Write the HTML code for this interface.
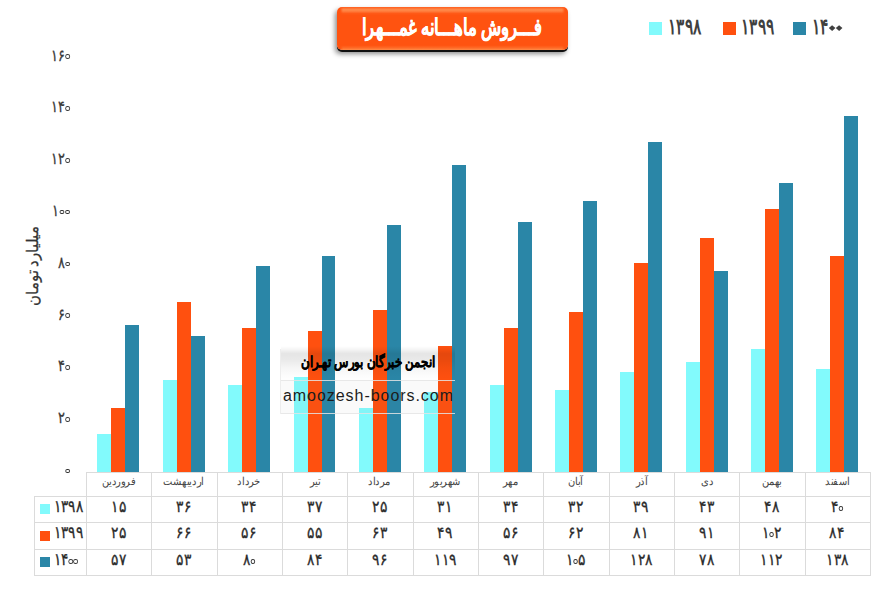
<!DOCTYPE html>
<html lang="fa">
<head>
<meta charset="utf-8">
<title>فروش ماهانه غمهرا</title>
<style>
html,body{margin:0;padding:0;background:#fff;}
body{width:881px;height:604px;position:relative;overflow:hidden;font-family:"Liberation Sans",sans-serif;color:#404040;}
.a{position:absolute;}
.bar{position:absolute;}
.c{background:#82fafc}.o{background:#ff500f}.t{background:#2a86a7}
.hl{position:absolute;height:1px;background:#dbdbdb;}
.vl{position:absolute;width:1px;background:#dbdbdb;}
.yl{position:absolute;left:19.2px;width:51px;height:16px;line-height:16px;text-align:right;font-size:16px;color:#383838;-webkit-text-stroke:.3px #383838;direction:ltr;white-space:nowrap;}
.yl>span{display:inline-block;transform:scaleX(.8);transform-origin:100% 50%;}
.mon{position:absolute;top:473px;height:23px;line-height:17px;text-align:center;font-size:11px;color:#454545;direction:rtl;white-space:nowrap;}
.mon>span{display:inline-block;transform:scaleX(.9);transform-origin:50% 50%;}
.val{position:absolute;height:26px;line-height:21px;text-align:center;font-size:16px;color:#2a2a2a;-webkit-text-stroke:.32px #2a2a2a;direction:ltr;white-space:nowrap;}
.val>span{display:inline-block;transform:scaleX(.86);transform-origin:50% 50%;}
.lg{position:absolute;left:54px;width:40px;height:26px;line-height:21px;font-size:17px;color:#2a2a2a;-webkit-text-stroke:.32px #2a2a2a;direction:ltr;white-space:nowrap;}
.lg>span{display:inline-block;transform:scaleX(.8);transform-origin:0 50%;}
.sq{position:absolute;left:40px;width:10px;height:10px;}
.tl{position:absolute;top:13.5px;height:26px;line-height:26px;font-size:22px;font-weight:bold;color:#404040;direction:ltr;white-space:nowrap;}
.tl>span{display:inline-block;transform:scaleX(.7);transform-origin:0 50%;}
.tsq{position:absolute;top:22px;width:13px;height:13px;}
.r{font-size:0;}
.r::after{content:"";display:inline-block;vertical-align:baseline;box-sizing:border-box;height:4.7px;border-radius:50%;border-style:solid;border-color:#2e2e2e;}
.yl .r::after{width:6px;border-width:1.3px 1.6px;margin:0 .2px 1.5px .2px;}
.val .r::after{width:5.7px;border-width:1.35px 1.55px;margin:0 .3px 1.2px -.3px;}
.lg .r::after{width:6px;border-width:1.35px 1.65px;margin:0 .7px 1.2px -.2px;}
.zb{font-size:0;}
.zb::after{content:"";display:inline-block;vertical-align:baseline;width:3.5px;height:3.5px;background:#404040;margin:0 3.8px 4.3px 2.9px;transform:scaleX(1.68) rotate(45deg);}
</style>
</head>
<body>

<div class="a" id="title" style="left:337px;top:7px;width:230.6px;height:43.2px;border-radius:5px;background:linear-gradient(to right,#ff5310 0,#ff5310 3px,rgba(255,83,16,0) 6px) left/8px 100% no-repeat,linear-gradient(to left,#ff5310 0,#ff5310 3px,rgba(255,83,16,0) 6px) right/8px 100% no-repeat,linear-gradient(#ff5c1c 0,#ff8848 6%,#ff8444 9%,#ff5a18 15%,#ff5310 19%,#ff5310 89%,#ff6a26 95%,#ff8c48 100%);box-shadow:0 1.9px 0 #101010,-2px 3.5px 5px rgba(0,0,0,.45);"></div>
<div class="a" id="titletext" style="left:337px;top:6px;width:231px;height:44px;line-height:42px;text-align:center;color:#fff;-webkit-text-stroke:.4px #fff;font-weight:bold;font-size:23px;direction:rtl;white-space:nowrap;"><span style="display:inline-block;transform:scaleX(.72);transform-origin:50% 50%;margin:0 -50px;position:relative;left:-0.5px">فـــروش ماهـــانه غمـــهرا</span></div>
<div class="tsq c" style="left:649.0px"></div>
<div class="tl" style="left:668px"><span>۱۳۹۸</span></div>
<div class="tsq o" style="left:722.5px"></div>
<div class="tl" style="left:741px"><span>۱۳۹۹</span></div>
<div class="tsq t" style="left:793.0px"></div>
<div class="tl" style="left:812px"><span>۱۴<span class="zb">۰</span><span class="zb">۰</span></span></div>
<div class="yl" style="top:47.5px"><span>۱۶<span class="r">۰</span></span></div>
<div class="yl" style="top:99.3px"><span>۱۴<span class="r">۰</span></span></div>
<div class="yl" style="top:151.1px"><span>۱۲<span class="r">۰</span></span></div>
<div class="yl" style="top:202.9px"><span>۱<span class="r">۰</span><span class="r">۰</span></span></div>
<div class="yl" style="top:254.7px"><span>۸<span class="r">۰</span></span></div>
<div class="yl" style="top:306.5px"><span>۶<span class="r">۰</span></span></div>
<div class="yl" style="top:358.3px"><span>۴<span class="r">۰</span></span></div>
<div class="yl" style="top:410.1px"><span>۲<span class="r">۰</span></span></div>
<div class="yl" style="top:461.9px"><span><span class="r">۰</span></span></div>
<div class="a" id="ytitle" style="left:-17.5px;top:254.5px;width:100px;height:22px;line-height:22px;text-align:center;font-size:16px;color:#333;-webkit-text-stroke:.25px #333;direction:rtl;white-space:nowrap;transform:rotate(-90deg);"><span style="display:inline-block;transform:scaleX(.93);transform-origin:50% 50%;">میلیارد تومان</span></div>
<div class="bar c" style="left:97px;top:434px;width:14px;height:38px"></div>
<div class="bar o" style="left:111px;top:408px;width:14px;height:64px"></div>
<div class="bar t" style="left:125px;top:325px;width:14px;height:147px"></div>
<div class="bar c" style="left:163px;top:380px;width:14px;height:92px"></div>
<div class="bar o" style="left:177px;top:302px;width:14px;height:170px"></div>
<div class="bar t" style="left:191px;top:336px;width:14px;height:136px"></div>
<div class="bar c" style="left:228px;top:385px;width:14px;height:87px"></div>
<div class="bar o" style="left:242px;top:328px;width:14px;height:144px"></div>
<div class="bar t" style="left:256px;top:266px;width:14px;height:206px"></div>
<div class="bar c" style="left:294px;top:377px;width:14px;height:95px"></div>
<div class="bar o" style="left:308px;top:331px;width:14px;height:141px"></div>
<div class="bar t" style="left:322px;top:256px;width:13px;height:216px"></div>
<div class="bar c" style="left:359px;top:408px;width:14px;height:64px"></div>
<div class="bar o" style="left:373px;top:310px;width:14px;height:162px"></div>
<div class="bar t" style="left:387px;top:225px;width:14px;height:247px"></div>
<div class="bar c" style="left:424px;top:392px;width:14px;height:80px"></div>
<div class="bar o" style="left:438px;top:346px;width:14px;height:126px"></div>
<div class="bar t" style="left:452px;top:165px;width:14px;height:307px"></div>
<div class="bar c" style="left:490px;top:385px;width:14px;height:87px"></div>
<div class="bar o" style="left:504px;top:328px;width:14px;height:144px"></div>
<div class="bar t" style="left:518px;top:222px;width:14px;height:250px"></div>
<div class="bar c" style="left:555px;top:390px;width:14px;height:82px"></div>
<div class="bar o" style="left:569px;top:312px;width:14px;height:160px"></div>
<div class="bar t" style="left:583px;top:201px;width:14px;height:271px"></div>
<div class="bar c" style="left:620px;top:372px;width:14px;height:100px"></div>
<div class="bar o" style="left:634px;top:263px;width:14px;height:209px"></div>
<div class="bar t" style="left:648px;top:142px;width:14px;height:330px"></div>
<div class="bar c" style="left:686px;top:362px;width:14px;height:110px"></div>
<div class="bar o" style="left:700px;top:238px;width:14px;height:234px"></div>
<div class="bar t" style="left:714px;top:271px;width:14px;height:201px"></div>
<div class="bar c" style="left:751px;top:349px;width:14px;height:123px"></div>
<div class="bar o" style="left:765px;top:209px;width:14px;height:263px"></div>
<div class="bar t" style="left:779px;top:183px;width:14px;height:289px"></div>
<div class="bar c" style="left:816px;top:369px;width:14px;height:103px"></div>
<div class="bar o" style="left:830px;top:256px;width:14px;height:216px"></div>
<div class="bar t" style="left:844px;top:116px;width:14px;height:356px"></div>
<div class="a" id="wm1" style="left:281px;top:346px;width:174px;height:35px;background:linear-gradient(rgba(0,0,0,0) 0,rgba(0,0,0,.035) 9%,rgba(0,0,0,.1) 22%,rgba(0,0,0,.085) 38%,rgba(0,0,0,.04) 62%,rgba(0,0,0,.01) 85%,rgba(0,0,0,0) 100%);"></div>
<div class="a" id="wm2" style="left:281px;top:380px;width:174px;height:34px;background:rgba(110,110,110,.035);border-top:1px solid rgba(228,228,228,.85);border-bottom:1px solid rgba(228,228,228,.85);box-sizing:border-box;"></div>
<div class="a" id="wm3" style="left:280px;top:349px;width:1px;height:65px;background:rgba(232,232,232,.8);"></div>
<div class="a" id="wmt" style="left:281px;top:348px;width:174px;height:30px;line-height:28px;text-align:center;font-size:15px;font-weight:bold;color:#000;direction:rtl;white-space:nowrap;"><span style="display:inline-block;transform:scaleX(.787);transform-origin:50% 50%;margin:0 -30px;-webkit-text-stroke:.3px #000">انجمن خبرگان بورس تهـران</span></div>
<div class="a" id="wmu" style="left:281px;top:384px;width:174px;height:24px;line-height:24px;text-align:center;font-size:16px;letter-spacing:0.95px;padding-left:0.95px;box-sizing:border-box;color:#1c1c1c;direction:ltr;white-space:nowrap;">amoozesh-boors.com</div>
<div class="hl" style="left:86px;top:472.00px;width:785.0px"></div>
<div class="hl" style="left:34px;top:496.00px;width:837.0px"></div>
<div class="hl" style="left:34px;top:522.33px;width:837.0px"></div>
<div class="hl" style="left:34px;top:548.67px;width:837.0px"></div>
<div class="hl" style="left:34px;top:575.00px;width:837.0px"></div>
<div class="vl" style="left:34px;top:496.0px;height:80.0px"></div>
<div class="vl" style="left:86.00px;top:472.0px;height:104.0px"></div>
<div class="vl" style="left:151.33px;top:472.0px;height:104.0px"></div>
<div class="vl" style="left:216.67px;top:472.0px;height:104.0px"></div>
<div class="vl" style="left:282.00px;top:472.0px;height:104.0px"></div>
<div class="vl" style="left:347.33px;top:472.0px;height:104.0px"></div>
<div class="vl" style="left:412.67px;top:472.0px;height:104.0px"></div>
<div class="vl" style="left:478.00px;top:472.0px;height:104.0px"></div>
<div class="vl" style="left:543.33px;top:472.0px;height:104.0px"></div>
<div class="vl" style="left:608.67px;top:472.0px;height:104.0px"></div>
<div class="vl" style="left:674.00px;top:472.0px;height:104.0px"></div>
<div class="vl" style="left:739.33px;top:472.0px;height:104.0px"></div>
<div class="vl" style="left:804.67px;top:472.0px;height:104.0px"></div>
<div class="vl" style="left:870.00px;top:472.0px;height:104.0px"></div>
<div class="mon" style="left:86.0px;width:65.3px"><span>فروردین</span></div>
<div class="val" style="left:86.0px;width:65.3px;top:496.0px"><span>۱۵</span></div>
<div class="val" style="left:86.0px;width:65.3px;top:522.3px"><span>۲۵</span></div>
<div class="val" style="left:86.0px;width:65.3px;top:548.7px"><span>۵۷</span></div>
<div class="mon" style="left:151.3px;width:65.3px"><span>اردیبهشت</span></div>
<div class="val" style="left:151.3px;width:65.3px;top:496.0px"><span>۳۶</span></div>
<div class="val" style="left:151.3px;width:65.3px;top:522.3px"><span>۶۶</span></div>
<div class="val" style="left:151.3px;width:65.3px;top:548.7px"><span>۵۳</span></div>
<div class="mon" style="left:216.7px;width:65.3px"><span>خرداد</span></div>
<div class="val" style="left:216.7px;width:65.3px;top:496.0px"><span>۳۴</span></div>
<div class="val" style="left:216.7px;width:65.3px;top:522.3px"><span>۵۶</span></div>
<div class="val" style="left:216.7px;width:65.3px;top:548.7px"><span>۸<span class="r">۰</span></span></div>
<div class="mon" style="left:282.0px;width:65.3px"><span>تیر</span></div>
<div class="val" style="left:282.0px;width:65.3px;top:496.0px"><span>۳۷</span></div>
<div class="val" style="left:282.0px;width:65.3px;top:522.3px"><span>۵۵</span></div>
<div class="val" style="left:282.0px;width:65.3px;top:548.7px"><span>۸۴</span></div>
<div class="mon" style="left:347.3px;width:65.3px"><span>مرداد</span></div>
<div class="val" style="left:347.3px;width:65.3px;top:496.0px"><span>۲۵</span></div>
<div class="val" style="left:347.3px;width:65.3px;top:522.3px"><span>۶۳</span></div>
<div class="val" style="left:347.3px;width:65.3px;top:548.7px"><span>۹۶</span></div>
<div class="mon" style="left:412.7px;width:65.3px"><span>شهریور</span></div>
<div class="val" style="left:412.7px;width:65.3px;top:496.0px"><span>۳۱</span></div>
<div class="val" style="left:412.7px;width:65.3px;top:522.3px"><span>۴۹</span></div>
<div class="val" style="left:412.7px;width:65.3px;top:548.7px"><span>۱۱۹</span></div>
<div class="mon" style="left:478.0px;width:65.3px"><span>مهر</span></div>
<div class="val" style="left:478.0px;width:65.3px;top:496.0px"><span>۳۴</span></div>
<div class="val" style="left:478.0px;width:65.3px;top:522.3px"><span>۵۶</span></div>
<div class="val" style="left:478.0px;width:65.3px;top:548.7px"><span>۹۷</span></div>
<div class="mon" style="left:543.3px;width:65.3px"><span>آبان</span></div>
<div class="val" style="left:543.3px;width:65.3px;top:496.0px"><span>۳۲</span></div>
<div class="val" style="left:543.3px;width:65.3px;top:522.3px"><span>۶۲</span></div>
<div class="val" style="left:543.3px;width:65.3px;top:548.7px"><span>۱<span class="r">۰</span>۵</span></div>
<div class="mon" style="left:608.7px;width:65.3px"><span>آذر</span></div>
<div class="val" style="left:608.7px;width:65.3px;top:496.0px"><span>۳۹</span></div>
<div class="val" style="left:608.7px;width:65.3px;top:522.3px"><span>۸۱</span></div>
<div class="val" style="left:608.7px;width:65.3px;top:548.7px"><span>۱۲۸</span></div>
<div class="mon" style="left:674.0px;width:65.3px"><span>دی</span></div>
<div class="val" style="left:674.0px;width:65.3px;top:496.0px"><span>۴۳</span></div>
<div class="val" style="left:674.0px;width:65.3px;top:522.3px"><span>۹۱</span></div>
<div class="val" style="left:674.0px;width:65.3px;top:548.7px"><span>۷۸</span></div>
<div class="mon" style="left:739.3px;width:65.3px"><span>بهمن</span></div>
<div class="val" style="left:739.3px;width:65.3px;top:496.0px"><span>۴۸</span></div>
<div class="val" style="left:739.3px;width:65.3px;top:522.3px"><span>۱<span class="r">۰</span>۲</span></div>
<div class="val" style="left:739.3px;width:65.3px;top:548.7px"><span>۱۱۲</span></div>
<div class="mon" style="left:804.7px;width:65.3px"><span>اسفند</span></div>
<div class="val" style="left:804.7px;width:65.3px;top:496.0px"><span>۴<span class="r">۰</span></span></div>
<div class="val" style="left:804.7px;width:65.3px;top:522.3px"><span>۸۴</span></div>
<div class="val" style="left:804.7px;width:65.3px;top:548.7px"><span>۱۳۸</span></div>
<div class="sq c" style="top:504.0px"></div>
<div class="lg" style="top:496.0px"><span>۱۳۹۸</span></div>
<div class="sq o" style="top:530.5px"></div>
<div class="lg" style="top:522.3px"><span>۱۳۹۹</span></div>
<div class="sq t" style="top:557.0px"></div>
<div class="lg" style="top:548.7px"><span>۱۴<span class="r">۰</span><span class="r">۰</span></span></div>
</body>
</html>
